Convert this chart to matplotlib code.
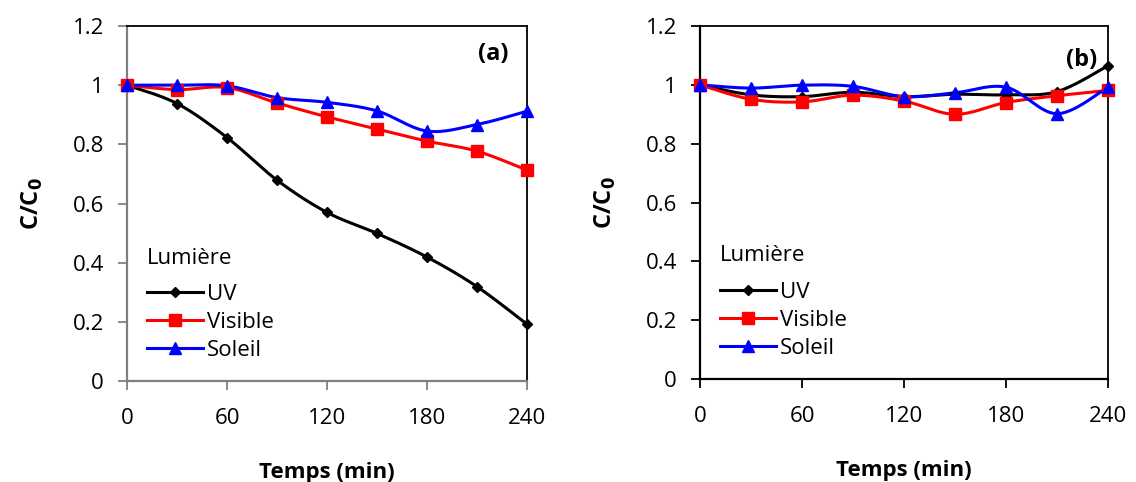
import numpy as np
import matplotlib.pyplot as plt

plt.rcParams['font.family'] = ['Open Sans', 'DejaVu Sans']

# temps (min)
temps = [0, 30, 60, 90, 120, 150, 180, 210, 240]

# (a) C/C0
uv_a = [1.0, 0.938, 0.823, 0.679, 0.570, 0.499, 0.419, 0.319, 0.192]
visible_a = [1.0, 0.985, 0.992, 0.940, 0.893, 0.852, 0.811, 0.777, 0.713]
soleil_a = [1.0, 1.0, 0.998, 0.958, 0.942, 0.913, 0.845, 0.867, 0.912]

# (b) C/C0
uv_b = [1.0, 0.966, 0.960, 0.975, 0.960, 0.968, 0.966, 0.977, 1.065]
visible_b = [1.0, 0.951, 0.942, 0.965, 0.945, 0.900, 0.940, 0.963, 0.981]
soleil_b = [1.0, 0.989, 0.999, 0.995, 0.960, 0.973, 0.992, 0.902, 0.992]

series_names = ['UV', 'Visible', 'Soleil']
colors = ['black', '#ff0000', '#0000ff']
markers = ['D', 's', '^']
msizes = [5.5, 8, 8]


def smooth(x, y, n=30):
    # Catmull-Rom curve through the points (like Excel's smoothed line)
    x = np.asarray(x, float)
    y = np.asarray(y, float)
    px = np.concatenate([[x[0]], x, [x[-1]]])
    py = np.concatenate([[y[0]], y, [y[-1]]])
    xs, ys = [], []
    t = np.linspace(0, 1, n)
    for i in range(1, len(px) - 2):
        b0x, b0y = px[i], py[i]
        b3x, b3y = px[i + 1], py[i + 1]
        b1x = b0x + (px[i + 1] - px[i - 1]) / 6
        b1y = b0y + (py[i + 1] - py[i - 1]) / 6
        b2x = b3x - (px[i + 2] - px[i]) / 6
        b2y = b3y - (py[i + 2] - py[i]) / 6
        xs.append((1-t)**3*b0x + 3*(1-t)**2*t*b1x + 3*(1-t)*t**2*b2x + t**3*b3x)
        ys.append((1-t)**3*b0y + 3*(1-t)**2*t*b1y + 3*(1-t)*t**2*b2y + t**3*b3y)
    return np.concatenate(xs), np.concatenate(ys)


fig = plt.figure(figsize=(11.36, 4.82), dpi=100)
ax_a = fig.add_axes([0.1118, 0.2095, 0.3521, 0.7365])
ax_b = fig.add_axes([0.6162, 0.2137, 0.3592, 0.7323])

panels = [(ax_a, [uv_a, visible_a, soleil_a], '(a)', '#808080', (0.915, 0.92)),
          (ax_b, [uv_b, visible_b, soleil_b], '(b)', 'black', (0.935, 0.905))]

for ax, data, tag, axcol, tagpos in panels:
    handles = []
    for vals, name, c, m, ms in zip(data, series_names, colors, markers, msizes):
        sx, sy = smooth(temps, vals)
        ax.plot(sx, sy, color=c, lw=2.2, zorder=3)
        ax.plot(temps, vals, ls='none', marker=m, ms=ms, color=c, zorder=4, clip_on=False)
        h, = ax.plot([], [], color=c, lw=2.2, marker=m, ms=ms, label=name)
        handles.append(h)

    ax.set_xlim(0, 240)
    ax.set_ylim(0, 1.2)
    ax.set_xticks([0, 60, 120, 180, 240])
    ax.set_yticks([0, 0.2, 0.4, 0.6, 0.8, 1.0, 1.2])
    ax.set_yticklabels(['0', '0.2', '0.4', '0.6', '0.8', '1', '1.2'])
    ax.tick_params(axis='both', labelsize=16, length=6.5, width=1.3, color=axcol, direction='out')
    ax.tick_params(axis='x', pad=13)
    ax.tick_params(axis='y', pad=10)
    for side in ['top', 'right']:
        ax.spines[side].set_color('black')
        ax.spines[side].set_linewidth(1.3)
    for side in ['left', 'bottom']:
        ax.spines[side].set_color(axcol)
        ax.spines[side].set_linewidth(1.6)

    ax.set_xlabel('Temps (min)', fontsize=16, fontweight='bold', labelpad=24)
    ax.set_ylabel('C/C$_\\mathbf{0}$', fontsize=17, fontweight='bold', labelpad=20)
    ax.text(tagpos[0], tagpos[1], tag, transform=ax.transAxes, fontsize=17,
            fontweight='bold', ha='center', va='center')

    leg = ax.legend(handles=handles, title='Lumière', loc='lower left',
                    bbox_to_anchor=(0.0, 0.0), frameon=False, fontsize=16,
                    title_fontsize=16, handlelength=2.5, handletextpad=0.2,
                    labelspacing=0.32, borderpad=0.9, borderaxespad=0)
    leg._legend_box.align = 'left'
    # a bit more room between the title and the entries
    leg._legend_box.sep = 11

fig.savefig('out.png', dpi=100)
